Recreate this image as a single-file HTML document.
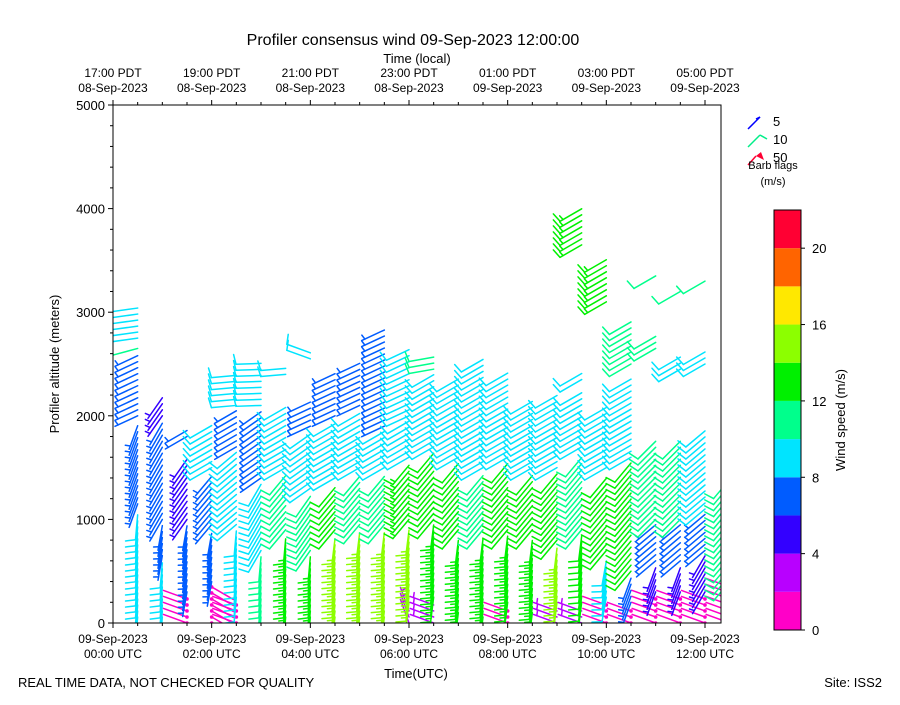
<!DOCTYPE html>
<html><head><meta charset="utf-8"><style>
html,body{margin:0;padding:0;background:#fff;}
svg text{font-family:"Liberation Sans","DejaVu Sans",sans-serif;fill:#000;}
</style></head><body>
<svg id="chart" width="900" height="700" viewBox="0 0 900 700" xmlns="http://www.w3.org/2000/svg">
<defs><clipPath id="plotclip"><rect x="113" y="105" width="608" height="518"/></clipPath></defs>
<text x="413" y="45" font-size="16" text-anchor="middle">Profiler consensus wind 09-Sep-2023 12:00:00</text>
<text x="417" y="63" font-size="13" text-anchor="middle">Time (local)</text>
<g id="barbs" clip-path="url(#plotclip)"></g>
<rect x="113" y="105" width="608" height="518" fill="none" stroke="#000" stroke-width="1"/>
<g id="axes"></g>
<text transform="translate(59,364) rotate(-90)" font-size="13" text-anchor="middle">Profiler altitude (meters)</text>
<text x="416" y="678" font-size="13" text-anchor="middle">Time(UTC)</text>
<text x="18" y="687" font-size="13">REAL TIME DATA, NOT CHECKED FOR QUALITY</text>
<text x="882" y="687" font-size="13" text-anchor="end">Site: ISS2</text>
<g>
  <g><line x1="748" y1="129" x2="760" y2="117" stroke="#0000ff" stroke-width="1.5"/><line x1="760" y1="117" x2="756" y2="119" stroke="#0000ff" stroke-width="1.5"/><text x="773" y="126" font-size="13">5</text></g>
  <g><line x1="748" y1="147" x2="760" y2="135" stroke="#00ee88" stroke-width="1.5"/><line x1="760" y1="135" x2="767" y2="139" stroke="#00ee88" stroke-width="1.5"/><text x="773" y="144" font-size="13">10</text></g>
  <g><line x1="748" y1="165" x2="756" y2="156" stroke="#ff0033" stroke-width="1.5"/><polygon points="756,156 761,152 764,160" fill="#ff0033"/><text x="773" y="162" font-size="13">50</text></g>
  <text x="773" y="169" font-size="11" text-anchor="middle">Barb flags</text>
  <text x="773" y="185" font-size="11" text-anchor="middle">(m/s)</text>
</g>
<g id="cbar"></g>
<text transform="translate(845,420) rotate(-90)" font-size="13" text-anchor="middle">Wind speed (m/s)</text>
</svg>
<script>
// ---- data ----
const colTimes = [0.5,1.0,1.5,2.0,2.5,3.0,3.5,4.0,4.5,5.0,5.5,6.0,6.5,7.0,7.5,8.0,8.5,9.0,9.5,10.0,10.5,11.0,11.5,12.0,12.5];
const segCol    = [0,0,0,0,0, 1,1,1,1, 2,2,2,2, 3,3,3,3, 4,4,4,4,4, 5,5,5,5, 6,6,6,6, 7,7,7,7,7, 8,8,8,8, 9,9,9,9, 10,10,10,10, 11,11,11,11,11, 12,12,12,12,12, 13,13,13,13, 14,14,14, 15,15,15,15, 16,16,16,16, 17,17,17,17, 18,18,18,18,18,18, 19,19,19,19,19, 20,20,20,20,20, 21,21,21,21,21,21, 22,22,22,22,22,22, 23,23,23,23,23,23, 24,24];
const segBottom = [0,1150,2000,2650,2750, 0,650,1000,2000, 0,300,1000,1800, 0,400,950,1500, 0,250,950,1700,2100, 0,700,1400,2100, 0,900,1500,2400, 0,700,1300,1900,2550, 0,900,1400,2000, 0,950,1500,2100, 0,950,1500,1900, 0,200,1000,1600,2000, 0,250,1000,1700,2450, 0,100,900,1600, 0,900,1500, 0,200,900,1600, 0,100,900,1500, 0,200,800,1500, 0,200,900,1700,2350,3650, 0,250,700,1500,3100, 0,200,500,1600,2500, 0,300,600,1000,2650,3350, 0,300,600,1000,2450,3200, 0,300,700,1100,2500,3300, 0,400];
const segTop    = [1100,1950,2600,2700,3060, 600,950,1950,2200, 250,950,1600,1900, 350,900,1450,1950, 200,900,1650,2050,2400, 650,1350,2050,2550, 850,1450,2100,2500, 650,1250,1850,2150,2650, 850,1350,1950,2450, 900,1450,2050,2550, 900,1450,1850,2850, 150,950,1550,1950,2650, 200,950,1650,2400,2600, 50,850,1550,2400, 850,1450,2600, 150,850,1550,2450, 50,850,1450,2150, 150,750,1450,2250, 150,850,1650,2250,2420,4000, 200,650,1450,2100,3550, 150,450,1550,2400,2950, 250,550,950,1800,2800,3400, 250,550,950,1800,2600,3250, 250,650,1050,1900,2650,3350, 350,1400];
const segSpeed  = [9,7,7,11,8, 9,7,6.5,5, 1,6,4.5,6, 1,7,7,9, 1,9,9,7,9, 11,9,7,9, 12.5,10,9,9, 13,11,9,7,9, 14.5,12,9,7, 15,11,9,7, 15,11,9,7, 3,15,13,9,8, 3,13,12,9,11, 7,13,12,9, 13,11,9, 1,13,12,9, 4,13,12,9, 3,14,12,9, 3,12,11,9,9,13, 1,8,12,9,13.5, 1,6,12,9,11, 1,5,7,11.5,11,11, 1,5,7,10,9,11, 1,5,7,9,9,11, 1,11];
const segAngle  = [95,110,155,165,172, 95,100,120,125, 200,100,125,150, 30,100,130,150, 200,95,140,150,175, 95,120,145,178, 95,130,150,175, 95,125,145,155,200, 97,130,150,155, 97,130,150,155, 97,130,150,155, 250,97,130,150,155, 200,97,130,150,170, 95,97,130,150, 97,130,150, 200,97,130,150, 100,97,130,150, 200,97,130,150, 200,97,130,150,150,150, 200,100,130,150,150, 200,110,130,150,150, 200,110,140,135,150,150, 200,110,140,135,150,150, 200,120,140,140,150,150, 200,130];
const levelStep = 58;
const yTicks = [0,1000,2000,3000,4000,5000];
const utcTickHours = [0,2,4,6,8,10,12];
const utcTickLabels = ["00:00 UTC","02:00 UTC","04:00 UTC","06:00 UTC","08:00 UTC","10:00 UTC","12:00 UTC"];
const utcDateLabels = ["09-Sep-2023","09-Sep-2023","09-Sep-2023","09-Sep-2023","09-Sep-2023","09-Sep-2023","09-Sep-2023"];
const localTickLabels = ["17:00 PDT","19:00 PDT","21:00 PDT","23:00 PDT","01:00 PDT","03:00 PDT","05:00 PDT"];
const localDateLabels = ["08-Sep-2023","08-Sep-2023","08-Sep-2023","08-Sep-2023","09-Sep-2023","09-Sep-2023","09-Sep-2023"];
const cbarBounds = [0,2,4,6,8,10,12,14,16,18,20,22];
const cbarColors = ["#ff00c8","#b800ff","#3300ff","#005cff","#00e4ff","#00ff8c","#00f000","#8cff00","#ffe800","#ff6400","#ff0033"];
const cbarTicks = [0,4,8,12,16,20];

// ---- scales ----
const X0=113,X1=721,Y0=623,Y1=105;
const xScale = h => X0 + h*(705-113)/12;
const yScale = m => Y0 - m*(Y0-Y1)/5000;
const cScale = v => 630 - v*(630-210)/22;
const NS='http://www.w3.org/2000/svg';
function mk(tag, attrs, parent){const e=document.createElementNS(NS,tag);for(const k in attrs)e.setAttribute(k,attrs[k]);parent.appendChild(e);return e;}
function colorFor(s){for(let i=0;i<cbarColors.length;i++){if(s<cbarBounds[i+1])return cbarColors[i];}return cbarColors[cbarColors.length-1];}

// ---- barbs ----
const gB=document.getElementById('barbs');
const L=25;
for(let i=0;i<segCol.length;i++){
  const x=xScale(colTimes[segCol[i]]);
  const sp=segSpeed[i], a=segAngle[i]*Math.PI/180, col=colorFor(sp);
  for(let h=segBottom[i]; h<=segTop[i]; h+=levelStep){
    const y=yScale(h);
    const ex=x+L*Math.cos(a), ey=y+L*Math.sin(a);
    const g=mk('g',{stroke:col,'stroke-width':1.5,fill:'none','stroke-linecap':'round'},gB);
    
    
    mk('line',{x1:x,y1:y,x2:ex,y2:ey},g);
    const n=Math.round(sp/5)*5, full=Math.floor(n/10), half=(n%10)===5?1:0;
    const ta=a+78*Math.PI/180;
    let k=0;
    for(let f=0;f<full;f++,k++){
      const bx=ex-3.5*k*Math.cos(a), by=ey-3.5*k*Math.sin(a);
      mk('line',{x1:bx,y1:by,x2:bx+10*Math.cos(ta),y2:by+10*Math.sin(ta)},g);
    }
    if(half){
      if(k===0)k=1;
      const bx=ex-3.5*k*Math.cos(a), by=ey-3.5*k*Math.sin(a);
      mk('line',{x1:bx,y1:by,x2:bx+5*Math.cos(ta),y2:by+5*Math.sin(ta)},g);
    }
    if(n===0){mk('circle',{cx:x,cy:y,r:1.8,fill:col,stroke:'none'},g);}
  }
}

// ---- axes ----
const gA=document.getElementById('axes');
for(let m=0;m<=5000;m+=200){
  const y=yScale(m), major=(m%1000===0);
  mk('line',{x1:X0,y1:y,x2:X0-(major?5:3),y2:y,stroke:'#000','stroke-width':1},gA);
}
yTicks.forEach(v=>{
  const t=mk('text',{x:X0-8,y:yScale(v)+5,'font-size':13,'text-anchor':'end'},gA);
  t.textContent=v;
  
  
});
for(let h=0;h<=12.33;h+=0.5){
  const x=xScale(h), major=(Math.abs(h%2)<1e-6);
  mk('line',{x1:x,y1:Y0,x2:x,y2:Y0+(major?5:3),stroke:'#000','stroke-width':1},gA);
  mk('line',{x1:x,y1:Y1,x2:x,y2:Y1-(major?5:3),stroke:'#000','stroke-width':1},gA);
}
utcTickHours.forEach((h,i)=>{
  const x=xScale(h);
  const t1=mk('text',{x:x,y:643,'font-size':12,'text-anchor':'middle'},gA);
  t1.textContent=utcDateLabels[i];
  
  
  const t2=mk('text',{x:x,y:658,'font-size':12,'text-anchor':'middle'},gA);
  t2.textContent=utcTickLabels[i];
  
  
  const t3=mk('text',{x:x,y:77,'font-size':12,'text-anchor':'middle'},gA);
  t3.textContent=localTickLabels[i];
  
  
  const t4=mk('text',{x:x,y:92,'font-size':12,'text-anchor':'middle'},gA);
  t4.textContent=localDateLabels[i];
  
  
});

// ---- colorbar ----
const gC=document.getElementById('cbar');
for(let i=0;i<cbarColors.length;i++){
  const r=mk('rect',{x:774,y:cScale(cbarBounds[i+1]),width:27,height:cScale(cbarBounds[i])-cScale(cbarBounds[i+1]),fill:cbarColors[i]},gC);
  
  
}
mk('rect',{x:774,y:210,width:27,height:420,fill:'none',stroke:'#000','stroke-width':1},gC);
cbarTicks.forEach(v=>{
  const y=cScale(v);
  mk('line',{x1:801,y1:y,x2:805,y2:y,stroke:'#000'},gC);
  const t=mk('text',{x:812,y:y+5,'font-size':13},gC);
  t.textContent=v;
  
  
});
</script>
</body></html>
